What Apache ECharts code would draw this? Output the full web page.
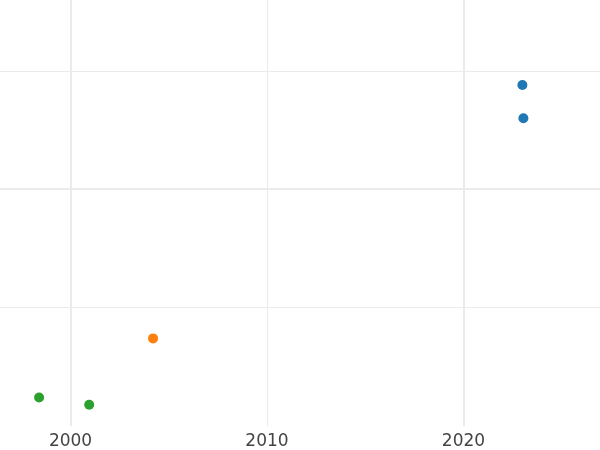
<!DOCTYPE html>
<html>
<head>
<meta charset="utf-8">
<script src="https://cdn.jsdelivr.net/npm/echarts@6/dist/echarts.min.js"></script>
<style>html,body{margin:0;padding:0;background:#fff}#c{width:600px;height:450px}</style>
</head>
<body>
<div id="c"></div>
<script>
// Data
const blueX = [2023.0, 2023.05];
const blueY = [2.88, 2.60];
const orangeX = [2004.2];
const orangeY = [0.74];
const greenX = [1998.4, 2000.95];
const greenY = [0.24, 0.18];

// Tick labels and grid lines
const xTickLabels = [2000, 2010, 2020];
const xMajorLines = [2000, 2020];
const xMinorLines = [2010];
const yMajorLines = [2];
const yMinorLines = [1, 3];

const zip = (xs, ys) => xs.map((x, i) => [x, ys[i]]);

const gridColor = '#ebebeb';
const markData = [
  ...xMajorLines.map(v => ({ xAxis: v, lineStyle: { width: 2, color: gridColor, type: 'solid' } })),
  ...xMinorLines.map(v => ({ xAxis: v, lineStyle: { width: 1, color: gridColor, type: 'solid' } })),
  ...yMajorLines.map(v => ({ yAxis: v, lineStyle: { width: 2, color: gridColor, type: 'solid' } })),
  ...yMinorLines.map(v => ({ yAxis: v, lineStyle: { width: 1, color: gridColor, type: 'solid' } }))
];

const chart = echarts.init(document.getElementById('c'), null, { renderer: 'canvas' });
chart.setOption({
  animation: false,
  backgroundColor: '#ffffff',
  grid: { left: 0, right: 0, top: 0, bottom: 23, containLabel: false },
  xAxis: {
    type: 'value',
    min: 1996.41,
    max: 2026.95,
    axisLine: { show: false },
    axisTick: { show: false },
    splitLine: { show: false },
    axisLabel: {
      customValues: xTickLabels,
      formatter: v => String(Math.round(v)),
      color: '#444444',
      fontSize: 17,
      fontFamily: 'DejaVu Sans',
      margin: 7
    }
  },
  yAxis: {
    type: 'value',
    min: 0,
    max: 3.598,
    axisLine: { show: false },
    axisTick: { show: false },
    axisLabel: { show: false },
    splitLine: { show: false }
  },
  series: [
    {
      type: 'scatter',
      data: [],
      z: 1,
      silent: true,
      markLine: {
        silent: true,
        symbol: ['none', 'none'],
        label: { show: false },
        animation: false,
        data: markData
      }
    },
    { type: 'scatter', z: 3, symbolSize: 10, itemStyle: { color: '#1f77b4', opacity: 1 }, data: zip(blueX, blueY) },
    { type: 'scatter', z: 3, symbolSize: 10, itemStyle: { color: '#ff7f0e', opacity: 1 }, data: zip(orangeX, orangeY) },
    { type: 'scatter', z: 3, symbolSize: 10, itemStyle: { color: '#2ca02c', opacity: 1 }, data: zip(greenX, greenY) }
  ]
});
</script>
</body>
</html>
